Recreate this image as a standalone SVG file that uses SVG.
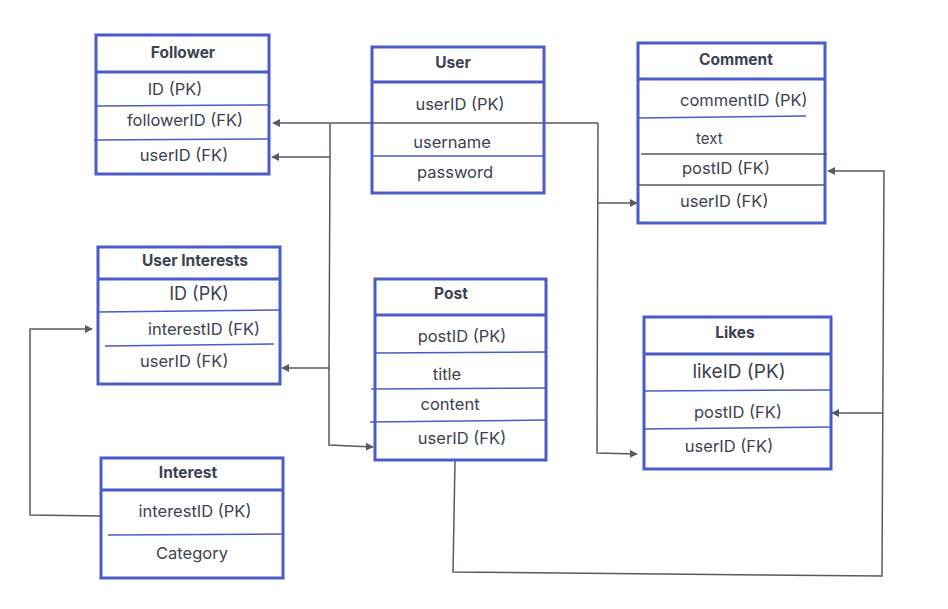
<svg xmlns="http://www.w3.org/2000/svg" width="948" height="609" viewBox="0 0 948 609">
<style>
  .box{fill:#ffffff;stroke:#4a5cc6;stroke-width:3}
  .hd{stroke:#4a5cc6;stroke-width:3;fill:none}
  .sep{stroke:#4a5cc6;stroke-width:1.5;fill:none}
  .sepg{stroke:#555a66;stroke-width:1.5;fill:none}
  .t{font-family:Inter,"Liberation Sans",sans-serif;font-size:16.5px;fill:#3d4250;text-anchor:middle;dominant-baseline:central}
  .ts{text-anchor:start}
  .h{font-weight:bold;font-size:15.5px}
  .c{stroke:#555a66;stroke-width:1.5;fill:none}
</style>
<defs>
  <marker id="ar" viewBox="0 0 10 10" refX="9" refY="5" markerWidth="8" markerHeight="8" markerUnits="userSpaceOnUse" orient="auto">
    <path d="M0,0 L10,5 L0,10 z" fill="#555a66"/>
  </marker>
</defs>
<rect width="948" height="609" fill="#ffffff"/>

<g id="connectors">
  <path class="c" d="M598,123 L273,123" marker-end="url(#ar)"/>
  <path class="c" d="M598,123 L597,453 L637,454" marker-end="url(#ar)"/>
  <path class="c" d="M597,203 L637,203" marker-end="url(#ar)"/>
  <path class="c" d="M330,123 L330,157 L272,157" marker-end="url(#ar)"/>
  <path class="c" d="M330,157 L329,368 L282,368" marker-end="url(#ar)"/>
  <path class="c" d="M329,368 L329,445 L373,447" marker-end="url(#ar)"/>
  <path class="c" d="M101,516 L30,515 L30,329 L92,329" marker-end="url(#ar)"/>
  <path class="c" d="M455,461 L453,572 L882,576 L884,171 L828,171" marker-end="url(#ar)"/>
  <path class="c" d="M883,413 L832,413" marker-end="url(#ar)"/>
</g>

<g id="follower">
  <rect class="box" x="96" y="35" width="173" height="139"/>
  <line class="hd" x1="96" y1="72" x2="269" y2="72"/>
  <line class="sep" x1="96" y1="106" x2="269" y2="105"/>
  <line class="sep" x1="94" y1="140" x2="269" y2="139"/>
  <text class="t h" x="183" y="52">Follower</text>
  <text class="t" x="175" y="89">ID (PK)</text>
  <text class="t" x="185" y="120">followerID (FK)</text>
  <text class="t" x="184" y="155">userID (FK)</text>
</g>

<g id="user">
  <rect class="box" x="372" y="47" width="172" height="146"/>
  <line class="hd" x1="372" y1="82" x2="544" y2="82"/>
  <line class="sepg" x1="372" y1="123" x2="544" y2="123"/>
  <line class="sep" x1="372" y1="156" x2="544" y2="156"/>
  <text class="t h" x="453" y="62">User</text>
  <text class="t" x="460" y="104">userID (PK)</text>
  <text class="t" x="452" y="142">username</text>
  <text class="t" x="455" y="172">password</text>
</g>

<g id="comment">
  <rect class="box" x="638" y="43" width="187" height="180"/>
  <line class="hd" x1="638" y1="79" x2="825" y2="79"/>
  <line class="sep" x1="638" y1="118" x2="806" y2="116"/>
  <line class="sepg" x1="641" y1="154" x2="827" y2="154"/>
  <line class="sepg" x1="638" y1="185" x2="825" y2="185"/>
  <text class="t h" x="736" y="59">Comment</text>
  <text class="t ts" x="680" y="100">commentID (PK)</text>
  <text class="t ts" x="696" y="138" style="font-size:15px">text</text>
  <text class="t ts" x="682" y="168">postID (FK)</text>
  <text class="t ts" x="680" y="201">userID (FK)</text>
</g>

<g id="user-interests">
  <rect class="box" x="98" y="247" width="182" height="137"/>
  <line class="hd" x1="98" y1="279" x2="280" y2="279"/>
  <line class="sep" x1="98" y1="312" x2="280" y2="310"/>
  <line class="sep" x1="105" y1="346" x2="274" y2="344"/>
  <text class="t h" x="195" y="260">User Interests</text>
  <text class="t" x="199" y="293" style="font-size:18px">ID (PK)</text>
  <text class="t ts" x="148" y="329">interestID (FK)</text>
  <text class="t ts" x="140" y="361">userID (FK)</text>
</g>

<g id="post">
  <rect class="box" x="375" y="279" width="171" height="181"/>
  <line class="hd" x1="375" y1="315" x2="546" y2="315"/>
  <line class="sep" x1="375" y1="353" x2="546" y2="352"/>
  <line class="sep" x1="371" y1="389" x2="546" y2="388"/>
  <line class="sep" x1="370" y1="422" x2="546" y2="420"/>
  <text class="t h" x="451" y="293">Post</text>
  <text class="t" x="462" y="336">postID (PK)</text>
  <text class="t" x="447" y="374">title</text>
  <text class="t" x="450" y="404">content</text>
  <text class="t" x="462" y="438">userID (FK)</text>
</g>

<g id="likes">
  <rect class="box" x="644" y="317" width="187" height="152"/>
  <line class="hd" x1="644" y1="354" x2="831" y2="354"/>
  <line class="sep" x1="644" y1="391" x2="831" y2="390"/>
  <line class="sep" x1="644" y1="429" x2="831" y2="427"/>
  <text class="t h" x="735" y="332">Likes</text>
  <text class="t" x="739" y="371" style="font-size:19px">likeID (PK)</text>
  <text class="t" x="738" y="412">postID (FK)</text>
  <text class="t" x="729" y="446">userID (FK)</text>
</g>

<g id="interest">
  <rect class="box" x="101" y="458" width="182" height="120"/>
  <line class="hd" x1="101" y1="490" x2="283" y2="490"/>
  <line class="sep" x1="108" y1="535" x2="283" y2="534"/>
  <text class="t h" x="188" y="472">Interest</text>
  <text class="t" x="195" y="511">interestID (PK)</text>
  <text class="t" x="192" y="553">Category</text>
</g>
</svg>
